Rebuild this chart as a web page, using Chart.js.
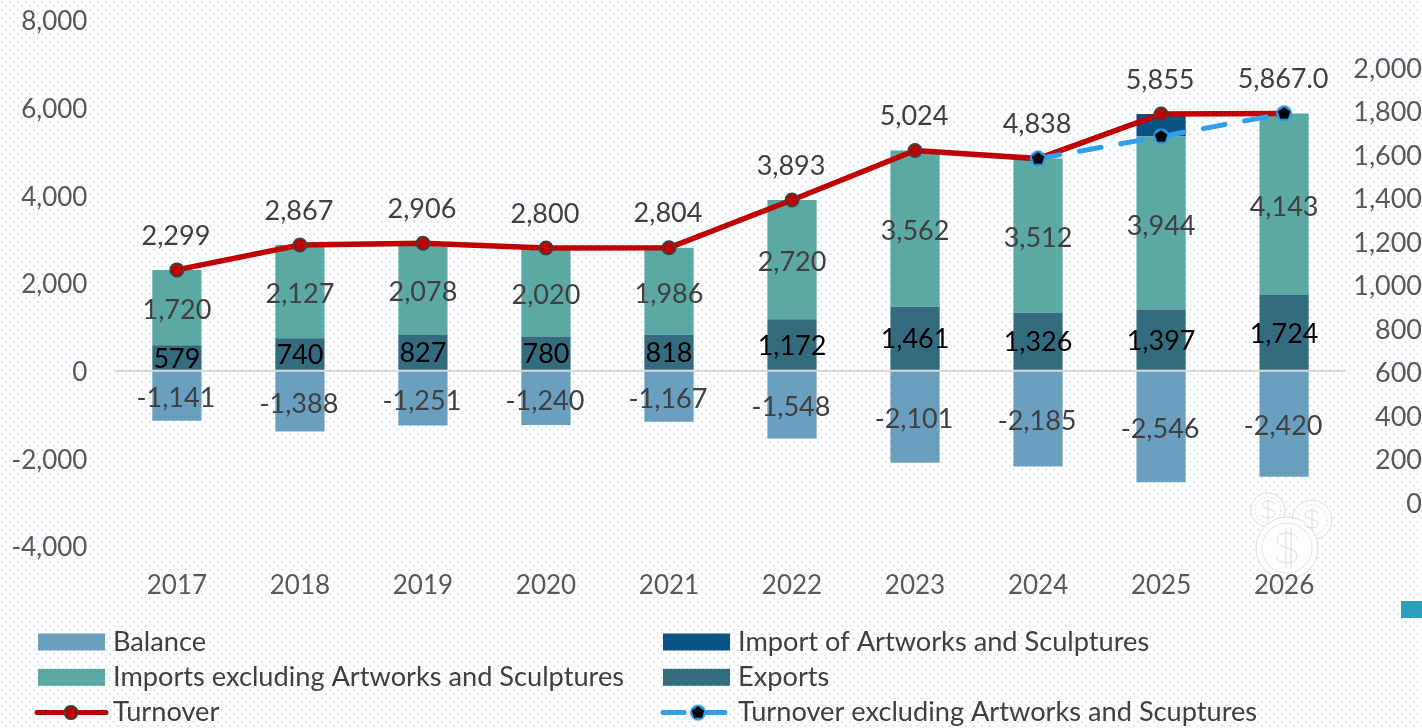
<!DOCTYPE html>
<html><head><meta charset="utf-8">
<script src="https://cdn.jsdelivr.net/npm/chart.js@4"></script>
<style>
html,body{margin:0;padding:0;width:1422px;height:728px;overflow:hidden;background-color:#fff;
background-image:url("data:image/svg+xml,%3Csvg xmlns='http://www.w3.org/2000/svg' width='8' height='8'%3E%3Crect x='1' y='1' width='2' height='2' fill='%23dfeaf8'/%3E%3Crect x='5' y='5' width='2' height='2' fill='%23dfeaf8'/%3E%3C/svg%3E");}
#wrap{position:relative;width:1422px;height:728px}
canvas#c{position:absolute;left:0;top:0;z-index:2}
#sq{position:absolute;left:1401px;top:601px;width:21px;height:17px;background:#2e9fbd}
#coin{position:absolute;left:1245px;top:490px;z-index:1}
</style></head><body><div id="wrap">
<svg id="coin" width="95" height="92" viewBox="0 0 95 92" fill="none" stroke="#dedede" stroke-width="1">
<circle cx="23" cy="20" r="17" fill="#fff"/><circle cx="23" cy="20" r="13" stroke-dasharray="2 2"/>
<circle cx="67" cy="30" r="20" fill="#fff"/><circle cx="67" cy="30" r="15" stroke-dasharray="2 2"/>
<circle cx="42" cy="58" r="31" fill="#fff"/><circle cx="42" cy="58" r="25" stroke-dasharray="3 1"/>
<path d="M52 48c-3-7-20-7-20 2 0 9 20 6 20 16 0 9-17 9-21 1M41 38v40M46 38v40"/>
<path d="M30 14c-2-4-13-4-13 1 0 5 13 3 13 9 0 5-11 5-14 1M23 9v22M73 24c-2-5-13-5-13 1 0 5 13 3 13 9 0 5-11 5-14 1M67 18v24"/>
</svg>
<div id="sq"></div>
<canvas id="c" width="1422" height="728"></canvas></div>
<script>
const years=['2017','2018','2019','2020','2021','2022','2023','2024','2025','2026'];
const exportsV=[579,740,827,780,818,1172,1461,1326,1397,1724];
const importsEx=[1720,2127,2078,2020,1986,2720,3562,3512,3944,4143];
const artworks=[null,null,null,null,null,null,null,null,514,null];
const balance=[-1141,-1388,-1251,-1240,-1167,-1548,-2101,-2185,-2546,-2420];
const turnover=[2299,2867,2906,2800,2804,3893,5024,4838,5855,5867];
const turnoverEx=[null,null,null,null,null,null,null,4838,5341,5867];
const turnoverLabels=['2,299','2,867','2,906','2,800','2,804','3,893','5,024','4,838','5,855','5,867.0'];
const rightTicks=[0,200,400,600,800,1000,1200,1400,1600,1800,2000];
const leftTicks=[-4000,-2000,0,2000,4000,6000,8000];
const FONT='Lato, Carlito, sans-serif';
const fmt=v=>Math.abs(v)>=1000?(v<0?'-':'')+Math.floor(Math.abs(v)/1000)+','+String(Math.abs(v)%1000).padStart(3,'0'):String(v);

const mk=document.createElement('canvas');mk.width=mk.height=18;
(()=>{const g=mk.getContext('2d');g.fillStyle='#2f9ff0';g.beginPath();g.arc(9,9,8,0,7);g.fill();
g.fillStyle='#000';g.beginPath();for(let i=0;i<5;i++){const a=-Math.PI/2+i*2*Math.PI/5;g.lineTo(9+6.6*Math.cos(a),9+6.6*Math.sin(a));}g.closePath();g.fill();})();

const barLabels={id:'barLabels',afterDatasetsDraw(ch){
 const g=ch.ctx,x=ch.scales.x,y=ch.scales.y;g.save();g.textAlign='center';g.textBaseline='middle';g.font='27px '+FONT;
 years.forEach((_,i)=>{const px=x.getPixelForValue(i);
  g.fillStyle='#000';g.fillText(fmt(exportsV[i]),px,y.getPixelForValue(exportsV[i]/2)+1);
  g.fillStyle='#404040';g.fillText(fmt(importsEx[i]),px,y.getPixelForValue(exportsV[i]+importsEx[i]/2)+3);
  g.fillText(fmt(balance[i]),px-1,y.getPixelForValue(balance[i]/2)+3);
  g.fillText(turnoverLabels[i],px-1,y.getPixelForValue(turnover[i])-34);
 });g.restore();}};

const shiftLabels=s=>{const base=Object.getPrototypeOf(s)._computeLabelItems;
 s._computeLabelItems=function(a){const items=base.call(this,a);items.forEach(it=>{it.options.translation=[it.options.translation[0],it.options.translation[1]+2];});return items;};};

const legendPos=[['Balance',0,0],['Import of Artworks and Sculptures',1,0],['Imports excluding Artworks and Sculptures',0,1],['Exports',1,1],['Turnover',0,2],['Turnover excluding Artworks and Scuptures',1,2]];
const legendPlugin={id:'legendGrid',afterDraw(ch){
 const g=ch.ctx;g.save();g.textBaseline='middle';g.textAlign='left';g.font='27.2px '+FONT;
 legendPos.forEach(([name,c,r])=>{
  const ds=ch.data.datasets.find(d=>d.label===name);
  const sx=c?663:38,yy=642+r*35.3;
  if(ds.type==='line'){
   g.strokeStyle=ds.borderColor;g.lineWidth=5;g.lineCap='round';
   g.beginPath();
   if(c){g.moveTo(663,yy);g.lineTo(684,yy);g.moveTo(706,yy);g.lineTo(725,yy);}
   else{g.moveTo(37,yy);g.lineTo(106,yy);}
   g.stroke();
   if(c){g.drawImage(mk,689,yy-9);}
   else{g.fillStyle=ds.pointBackgroundColor;g.strokeStyle=ds.pointBorderColor;g.lineWidth=2;g.beginPath();g.arc(71,yy,6.5,0,7);g.fill();g.stroke();}
  }else{g.fillStyle=ds.backgroundColor;g.fillRect(sx,yy-8.5,67,17);}
  g.fillStyle='#404040';g.fillText(name,c?738:113,yy);
 });g.restore();}};

new Chart(document.getElementById('c'),{
 data:{labels:years,datasets:[
  {type:'bar',label:'Exports',data:exportsV,backgroundColor:'#336b7f',stack:'b',order:3,yAxisID:'y'},
  {type:'bar',label:'Imports excluding Artworks and Sculptures',data:importsEx,backgroundColor:'#5ca8a3',stack:'b',order:3,yAxisID:'y'},
  {type:'bar',label:'Import of Artworks and Sculptures',data:artworks,backgroundColor:'#0b5285',stack:'b',order:3,yAxisID:'y'},
  {type:'bar',label:'Balance',data:balance,backgroundColor:'#6a9fbf',stack:'b',order:3,yAxisID:'y'},
  {type:'line',label:'Turnover',data:turnover,borderColor:'#c00000',borderWidth:5.5,pointBackgroundColor:'#c00000',pointBorderColor:'#404040',pointBorderWidth:2,pointRadius:6.5,stack:'t',order:2,yAxisID:'y',tension:0},
  {type:'line',label:'Turnover excluding Artworks and Scuptures',data:turnoverEx,borderColor:'#2f9ff0',borderWidth:5,borderDash:[22,20],borderCapStyle:'round',pointStyle:mk,pointRadius:8,stack:'e',order:1,yAxisID:'y',spanGaps:false,tension:0}
 ]},
 options:{responsive:false,animation:false,
  layout:{autoPadding:false,padding:{top:20,left:0,right:0,bottom:0}},
  datasets:{bar:{barPercentage:0.4,categoryPercentage:1}},
  plugins:{legend:{display:false},tooltip:{enabled:false}},
  scales:{
   x:{stacked:true,grid:{display:false},border:{display:false},
      ticks:{color:'#595959',font:{family:FONT,size:26},padding:16,maxRotation:0,autoSkip:false},
      afterFit(s){s.height=182;}},
   y:{stacked:true,position:'left',min:-4000,max:8000,
      afterBuildTicks(s){s.ticks=leftTicks.map(v=>({value:v}));},
      grid:{color:c=>c.tick&&c.tick.value===0?'#d9d9d9':'transparent',lineWidth:2,drawTicks:false},border:{display:false},
      ticks:{color:'#595959',font:{family:FONT,size:26},padding:28,callback:v=>fmt(v)},
      afterFit(s){s.width=115.4;s.paddingTop=0;s.paddingBottom=0;shiftLabels(s);}},
   y2:{position:'right',min:-202,max:2216,
      afterBuildTicks(s){s.ticks=rightTicks.map(v=>({value:v}));},
      grid:{display:false,drawTicks:false},border:{display:false},
      ticks:{color:'#595959',font:{family:FONT,size:27},padding:3,crossAlign:'far',callback:v=>fmt(v)},
      afterFit(s){s.width=76.4;s.paddingTop=0;s.paddingBottom=0;shiftLabels(s);}}
  }},
 plugins:[barLabels,legendPlugin]
});
</script></body></html>
